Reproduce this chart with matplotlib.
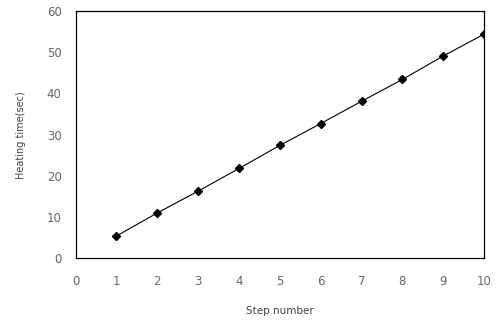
import matplotlib
matplotlib.use("Agg")
import matplotlib.pyplot as plt

# step number vs heating time
steps = [1, 2, 3, 4, 5, 6, 7, 8, 9, 10]
heat_time = [5.4, 11.0, 16.3, 21.8, 27.4, 32.7, 38.1, 43.4, 49.1, 54.4]

x_ticks = [0, 1, 2, 3, 4, 5, 6, 7, 8, 9, 10]
y_ticks = [0, 10, 20, 30, 40, 50, 60]

fig = plt.figure(figsize=(4.97, 3.26), dpi=100)
ax = fig.add_axes([0.152, 0.2077, 0.822, 0.7583])

ax.plot(steps, heat_time, color="black", linewidth=0.8,
        marker="D", markersize=4.5)

ax.set_xlim(0, 10)
ax.set_ylim(0, 60)
ax.set_xticks(x_ticks)
ax.set_yticks(y_ticks)
ax.tick_params(length=0, labelsize=8.5, labelcolor="#666666", pad=12)
ax.tick_params(axis="y", pad=10)

for s in ax.spines.values():
    s.set_linewidth(0.9)

ax.set_xlabel("Step number", fontsize=7.5, color="#444444", labelpad=13)
ax.set_ylabel("Heating time(sec)", fontsize=7, color="#444444", labelpad=15)

fig.savefig("out.png", dpi=100)
